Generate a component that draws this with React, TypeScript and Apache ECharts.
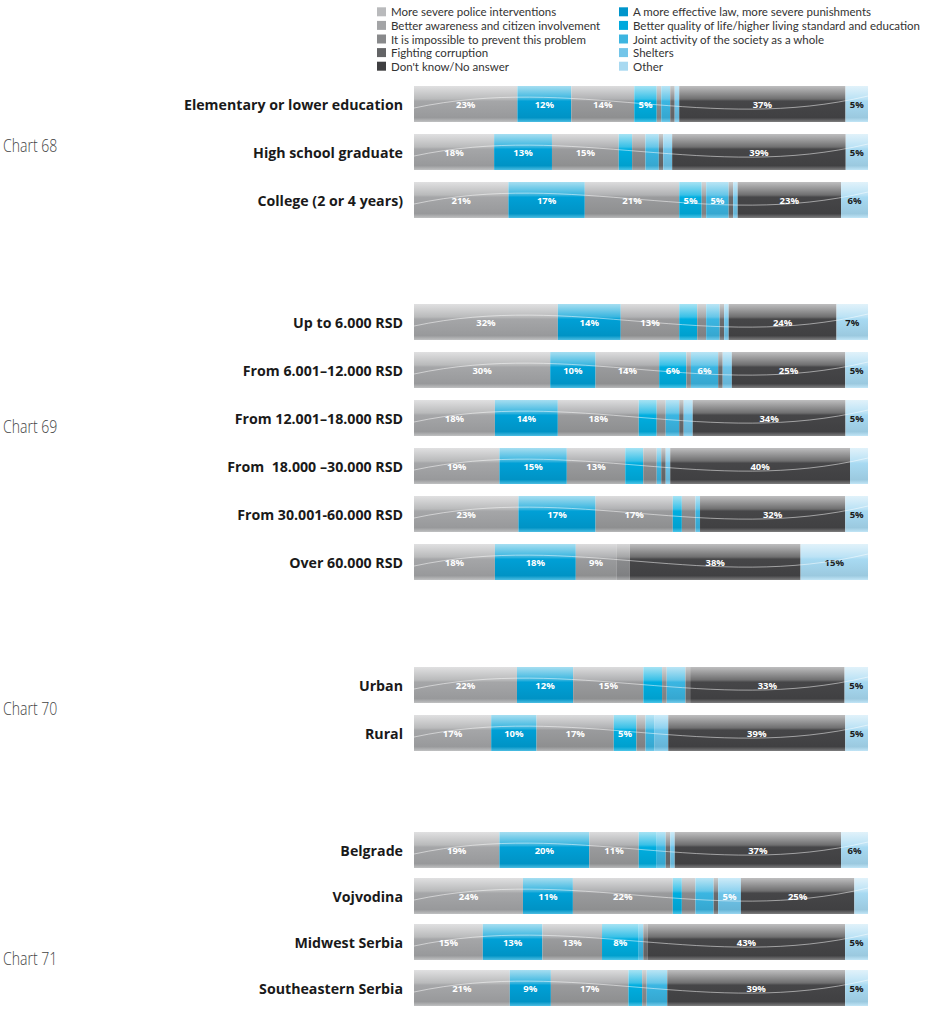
import React, { useEffect, useRef } from 'react';
import * as echarts from 'echarts';

// Stack order of the segments (left to right inside each bar)
const seriesNames = [
  'More severe police interventions',
  'A more effective law, more severe punishments',
  'Better awareness and citizen involvement',
  'Better quality of life/higher living standard and education',
  'It is impossible to prevent this problem',
  'Joint activity of the society as a whole',
  'Fighting corruption',
  'Shelters',
  "Don't know/No answer",
  'Other',
];
const legendLeftNames = [
  'More severe police interventions',
  'Better awareness and citizen involvement',
  'It is impossible to prevent this problem',
  'Fighting corruption',
  "Don't know/No answer",
];
const legendRightNames = [
  'A more effective law, more severe punishments',
  'Better quality of life/higher living standard and education',
  'Joint activity of the society as a whole',
  'Shelters',
  'Other',
];
const legendColors: Record<string, string> = {
  'More severe police interventions': '#b9babc',
  'Better awareness and citizen involvement': '#a3a4a6',
  'It is impossible to prevent this problem': '#88898b',
  'Fighting corruption': '#636466',
  "Don't know/No answer": '#3f3f41',
  'A more effective law, more severe punishments': '#0095cb',
  'Better quality of life/higher living standard and education': '#00a9dd',
  'Joint activity of the society as a whole': '#3db5e0',
  'Shelters': '#73c5e9',
  'Other': '#a8d9f1',
};
const barBase = ['#a5a6a8', '#00a0d6', '#9a9b9d', '#00aee0', '#8a8b8d', '#3bb6e2', '#6b6c6e', '#6fc5ea', '#464648', '#a8daf2'];

// Chart 68
const cats68 = ['Elementary or lower education', 'High school graduate', 'College (2 or 4 years)'];
const vals68 = [
  [23, 12, 14, 5, 1, 2, 1, 1, 37, 5],
  [18, 13, 15, 3, 3, 3, 1, 2, 39, 5],
  [21, 17, 21, 5, 1, 5, 1, 1, 23, 6],
];
// Chart 69
const cats69 = ['Up to 6.000 RSD', 'From 6.001–12.000 RSD', 'From 12.001–18.000 RSD', 'From  18.000 –30.000 RSD', 'From 30.001-60.000 RSD', 'Over 60.000 RSD'];
const vals69 = [
  [32, 14, 13, 4, 2, 3, 1, 1, 24, 7],
  [30, 10, 14, 6, 1, 6, 1, 2, 25, 5],
  [18, 14, 18, 4, 2, 3, 1, 2, 34, 5],
  [19, 15, 13, 4, 3, 1, 1, 1, 40, 4],
  [23, 17, 17, 2, 3, 1, 0, 0, 32, 5],
  [18, 18, 9, 0, 3, 0, 0, 0, 38, 15],
];
// Chart 70
const cats70 = ['Urban', 'Rural'];
const vals70 = [
  [22, 12, 15, 4, 1, 4, 1, 0, 33, 5],
  [17, 10, 17, 5, 2, 2, 0, 3, 39, 5],
];
// Chart 71
const cats71 = ['Belgrade', 'Vojvodina', 'Midwest Serbia', 'Southeastern Serbia'];
const vals71 = [
  [19, 20, 11, 4, 0, 2, 1, 1, 37, 6],
  [24, 11, 22, 2, 3, 4, 1, 5, 25, 3],
  [15, 13, 13, 8, 0, 1, 1, 0, 43, 5],
  [21, 9, 17, 3, 1, 4.5, 0, 0, 39, 5],
];
const chartTitles = ['Chart 68', 'Chart 69', 'Chart 70', 'Chart 71'];

function mix(hex: string, target: number, t: number) {
  const n = parseInt(hex.slice(1), 16);
  const r = (n >> 16) & 255, g = (n >> 8) & 255, b = n & 255;
  const f = (c: number) => Math.round(c + (target - c) * t);
  return `rgb(${f(r)},${f(g)},${f(b)})`;
}
function grad(base: string) {
  return new echarts.graphic.LinearGradient(0, 0, 0, 1, [
    { offset: 0, color: mix(base, 255, 0.65) },
    { offset: 0.36, color: mix(base, 255, 0.22) },
    { offset: 0.42, color: base },
    { offset: 0.88, color: mix(base, 0, 0.08) },
    { offset: 1, color: mix(base, 255, 0.3) },
  ]);
}

export default function App() {
  const ref = useRef<HTMLDivElement>(null);
  useEffect(() => {
    if (!ref.current) return;
    const chart = echarts.init(ref.current, undefined, { renderer: 'svg' });
    const groups = [
      { cats: cats68, vals: vals68, top: 80 },
      { cats: cats69, vals: vals69, top: 298 },
      { cats: cats70, vals: vals70, top: 661 },
      { cats: cats71, vals: vals71, top: 827 },
    ];
    const titleY = [145, 426, 708, 958];
    const grid: any[] = [];
    const xAxis: any[] = [];
    const yAxis: any[] = [];
    const series: any[] = [];
    groups.forEach((g, gi) => {
      grid.push({ left: 414, width: 454, top: g.top, height: g.cats.length * 48 });
      xAxis.push({ gridIndex: gi, type: 'value', min: 0, max: 100, show: false });
      yAxis.push({
        gridIndex: gi,
        type: 'category',
        inverse: true,
        data: g.cats,
        axisLine: { show: false },
        axisTick: { show: false },
        axisLabel: {
          margin: 11,
          color: '#1a1a1a',
          fontFamily: 'Open Sans',
          fontWeight: 'bold',
          fontSize: 14.2,
        },
      });
      seriesNames.forEach((name, si) => {
        series.push({
          name,
          type: 'bar',
          stack: 'g' + gi,
          xAxisIndex: gi,
          yAxisIndex: gi,
          barWidth: 36,
          itemStyle: { color: grad(barBase[si]) },
          label: {
            show: true,
            position: 'inside',
            color: si === 9 ? '#1a1a1a' : '#ffffff',
            fontFamily: 'Open Sans',
            fontWeight: 'bold',
            fontSize: 9.5,
            formatter: (p: any) => (p.data.raw >= 5 ? p.data.raw + '%' : ''),
          },
          data: g.vals.map((row) => {
            const tot = row.reduce((a, b) => a + b, 0);
            return { value: (row[si] / tot) * 100, raw: row[si] };
          }),
        });
      });
      // decorative white wave across each bar
      series.push({
        type: 'custom',
        xAxisIndex: gi,
        yAxisIndex: gi,
        silent: true,
        z: 5,
        data: g.cats.map((_, i) => [0, i]),
        renderItem: (params: any, api: any) => {
          const i = api.value(1);
          const p0 = api.coord([0, i]);
          const p1 = api.coord([100, i]);
          const w = p1[0] - p0[0];
          const c = p0[1];
          return {
            type: 'bezierCurve',
            shape: {
              x1: p0[0], y1: c + 4,
              cpx1: p0[0] + w * 0.35, cpy1: c - 30,
              cpx2: p0[0] + w * 0.65, cpy2: c + 30,
              x2: p1[0], y2: c - 8,
            },
            style: { stroke: 'rgba(255,255,255,0.5)', lineWidth: 1, fill: null },
          };
        },
      });
    });
    const legendBase = {
      orient: 'vertical',
      top: 5,
      padding: 0,
      itemWidth: 9,
      itemHeight: 9,
      itemGap: 0,
      icon: 'rect',
      selectedMode: false,
      textStyle: { fontFamily: 'Lato', fontSize: 11.5, color: '#333', lineHeight: 13.6 },
    };
    chart.setOption({
      animation: false,
      backgroundColor: '#ffffff',
      grid,
      xAxis,
      yAxis,
      series,
      legend: [
        { ...legendBase, left: 377, data: legendLeftNames.map((n) => ({ name: n, itemStyle: { color: legendColors[n] } })) },
        { ...legendBase, left: 619, data: legendRightNames.map((n) => ({ name: n, itemStyle: { color: legendColors[n] } })) },
      ],
      graphic: chartTitles.map((t, i) => ({
        type: 'text',
        x: 3,
        y: titleY[i],
        scaleX: 0.74,
        style: {
          text: t,
          fontFamily: 'Open Sans',
          fontWeight: 300,
          fontSize: 19,
          fill: '#444444',
          verticalAlign: 'middle',
        },
      })),
    });
    return () => chart.dispose();
  }, []);
  return <div ref={ref} style={{ position: 'fixed', left: 0, top: 0, width: 935, height: 1011 }} />;
}
